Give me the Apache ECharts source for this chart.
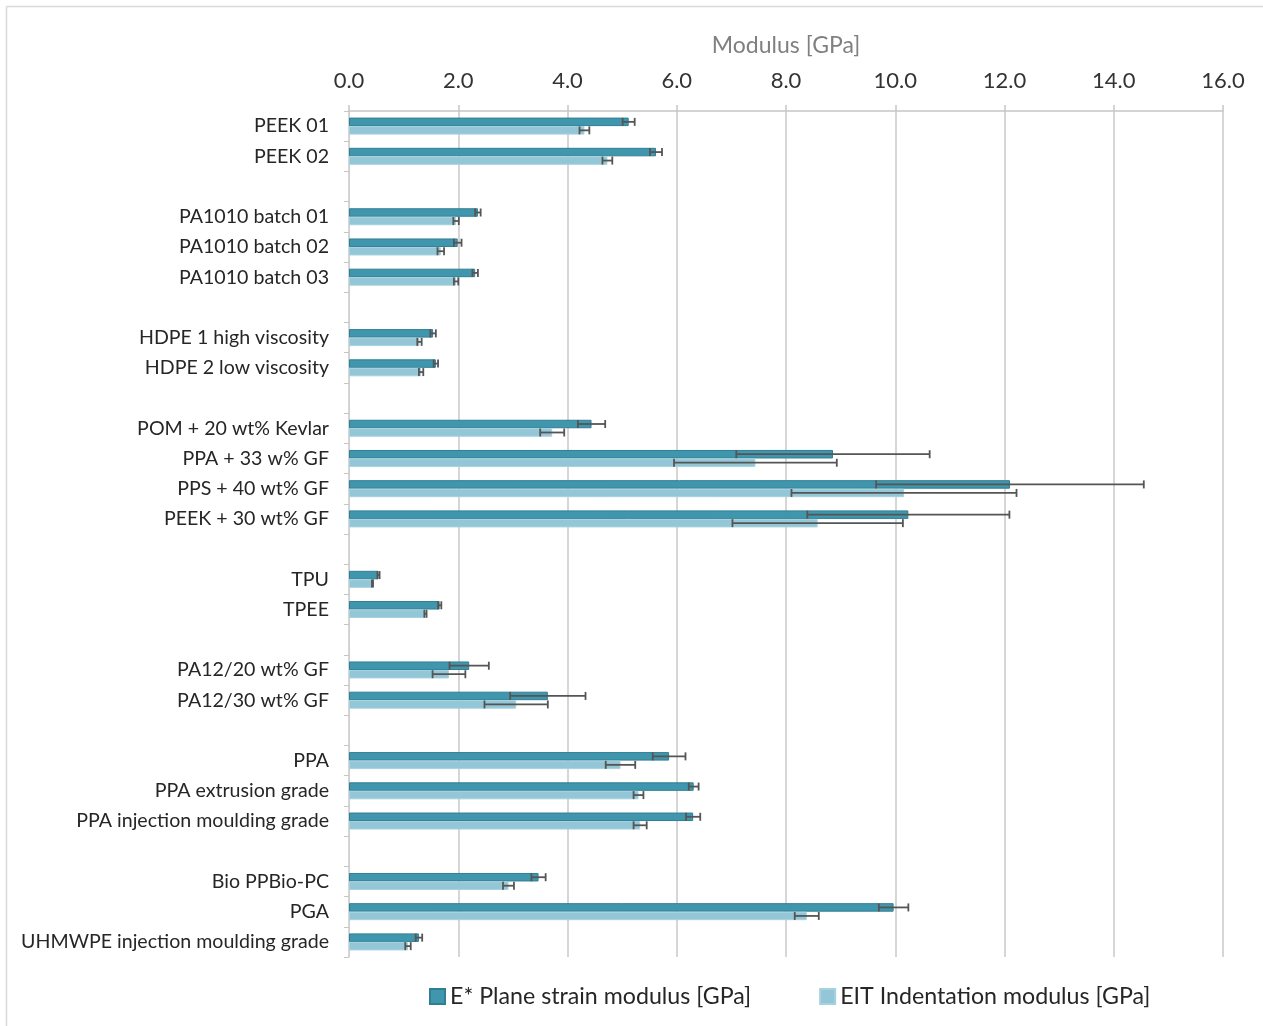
<!DOCTYPE html>
<html>
<head>
<meta charset="utf-8">
<script src="https://cdn.jsdelivr.net/npm/echarts@6/dist/echarts.min.js"></script>
<style>
  html, body { margin: 0; padding: 0; background: #fff; }
  #chart { width: 1263px; height: 1026px; }
</style>
</head>
<body>
<div id="chart"></div>
<script>
// Materials, top to bottom; empty strings are spacer rows between groups
const categories = [
  'PEEK 01', 'PEEK 02', '',
  'PA1010 batch 01', 'PA1010 batch 02', 'PA1010 batch 03', '',
  'HDPE 1 high viscosity', 'HDPE 2 low viscosity', '',
  'POM + 20 wt% Kevlar', 'PPA + 33 w% GF', 'PPS + 40 wt% GF', 'PEEK + 30 wt% GF', '',
  'TPU', 'TPEE', '',
  'PA12/20 wt% GF', 'PA12/30 wt% GF', '',
  'PPA', 'PPA extrusion grade', 'PPA injection moulding grade', '',
  'Bio PPBio-PC', 'PGA', 'UHMWPE injection moulding grade'
];

// E* plane strain modulus [GPa] and its standard deviation
const planeStrain = [
  5.12, 5.62, null,
  2.36, 1.99, 2.31, null,
  1.54, 1.59, null,
  4.44, 8.86, 12.10, 10.24, null,
  0.54, 1.66, null,
  2.20, 3.64, null,
  5.86, 6.31, 6.30, null,
  3.47, 9.97, 1.28
];
const planeStrainErr = [
  0.11, 0.11, null,
  0.05, 0.07, 0.05, null,
  0.05, 0.04, null,
  0.25, 1.77, 2.45, 1.85, null,
  0.02, 0.03, null,
  0.36, 0.69, null,
  0.30, 0.09, 0.13, null,
  0.13, 0.27, 0.06
];

// EIT indentation modulus [GPa] and its standard deviation
const indentation = [
  4.31, 4.73, null,
  1.96, 1.68, 1.96, null,
  1.29, 1.32, null,
  3.72, 7.44, 10.16, 8.58, null,
  0.43, 1.40, null,
  1.83, 3.06, null,
  4.97, 5.30, 5.33, null,
  2.92, 8.38, 1.08
];
const indentationErr = [
  0.09, 0.09, null,
  0.05, 0.06, 0.04, null,
  0.04, 0.04, null,
  0.22, 1.49, 2.06, 1.56, null,
  0.01, 0.02, null,
  0.30, 0.58, null,
  0.27, 0.09, 0.12, null,
  0.10, 0.22, 0.05
];

const xTicks = { min: 0, max: 16, interval: 2 };
const seriesNames = ['E* Plane strain modulus [GPa]', 'EIT Indentation modulus [GPa]'];

const BAR_W = 8.5;
const FONT = 'Lato, "Open Sans", sans-serif';

// Give every spacer row a unique name so the ordinal axis keeps them apart
const yCategories = categories.map((c, i) => c === '' ? ' '.repeat(i + 1) : c);

function errorData(values, errs) {
  const out = [];
  values.forEach((v, i) => {
    if (v != null) out.push([v, i, errs[i]]);
  });
  return out;
}

// Whisker: horizontal line from v-err to v+err with end caps, shifted onto its bar
function errorRenderer(offset) {
  return function (params, api) {
    const v = api.value(0), idx = api.value(1), e = api.value(2);
    const c = api.coord([v, idx]);
    const y = c[1] + offset;
    const x1 = api.coord([v - e, idx])[0];
    const x2 = api.coord([v + e, idx])[0];
    const cap = 4;
    const style = { stroke: '#555555', lineWidth: 1.8 };
    return {
      type: 'group',
      children: [
        { type: 'line', shape: { x1: x1, y1: y, x2: x2, y2: y }, style: style },
        { type: 'line', shape: { x1: x1, y1: y - cap, x2: x1, y2: y + cap }, style: style },
        { type: 'line', shape: { x1: x2, y1: y - cap, x2: x2, y2: y + cap }, style: style }
      ]
    };
  };
}

const chart = echarts.init(document.getElementById('chart'), null, { renderer: 'canvas' });

chart.setOption({
  animation: false,
  backgroundColor: '#ffffff',
  textStyle: { fontFamily: FONT },
  graphic: [
    { type: 'line', shape: { x1: 6.5, y1: 6.5, x2: 1263, y2: 6.5 }, style: { stroke: '#d9d9d9', lineWidth: 1.5 } },
    { type: 'line', shape: { x1: 6.5, y1: 6.5, x2: 6.5, y2: 1026 }, style: { stroke: '#d9d9d9', lineWidth: 1.5 } }
  ],
  legend: {
    data: seriesNames,
    left: 424,
    top: 980,
    itemWidth: 15,
    itemHeight: 15,
    itemGap: 68,
    icon: 'rect',
    textStyle: { fontSize: 23.2, color: '#262626', fontFamily: FONT }
  },
  grid: { left: 349, right: 40, top: 111, bottom: 69, containLabel: false },
  xAxis: {
    type: 'value',
    position: 'top',
    min: xTicks.min,
    max: xTicks.max,
    interval: xTicks.interval,
    name: 'Modulus [GPa]',
    nameLocation: 'middle',
    nameGap: 54,
    nameTextStyle: { fontSize: 23, color: '#808080', fontFamily: FONT },
    axisLine: { show: true, lineStyle: { color: '#c6c6c6', width: 1.5 } },
    axisTick: { show: true, length: 6, lineStyle: { color: '#c6c6c6', width: 1.5 } },
    axisLabel: {
      fontSize: 22,
      color: '#333333',
      margin: 19,
      formatter: v => v.toFixed(1)
    },
    splitLine: { show: true, lineStyle: { color: '#c8c8c8', width: 1.5 } }
  },
  yAxis: {
    type: 'category',
    inverse: true,
    data: yCategories,
    axisLine: { show: true, lineStyle: { color: '#d0d0d0', width: 1 } },
    axisTick: { show: true, length: 5, lineStyle: { color: '#c6c6c6' } },
    axisLabel: {
      fontSize: 19.6,
      color: '#262626',
      margin: 20,
      interval: 0,
      formatter: v => v.trim()
    },
    splitLine: { show: false }
  },
  series: [
    {
      name: seriesNames[0],
      type: 'bar',
      data: planeStrain,
      barWidth: BAR_W,
      barGap: '0%',
      itemStyle: { color: '#4097ad', borderColor: '#2f7e93', borderWidth: 1 },
      z: 2
    },
    {
      name: seriesNames[1],
      type: 'bar',
      data: indentation,
      barWidth: BAR_W,
      barGap: '0%',
      itemStyle: { color: '#93c6d6', borderColor: '#a6d1df', borderWidth: 1 },
      z: 2
    },
    {
      name: 'E* sd',
      type: 'custom',
      renderItem: errorRenderer(-BAR_W / 2),
      data: errorData(planeStrain, planeStrainErr),
      encode: { x: 0, y: 1 },
      z: 5,
      silent: true
    },
    {
      name: 'EIT sd',
      type: 'custom',
      renderItem: errorRenderer(BAR_W / 2),
      data: errorData(indentation, indentationErr),
      encode: { x: 0, y: 1 },
      z: 5,
      silent: true
    }
  ]
});
</script>
</body>
</html>
